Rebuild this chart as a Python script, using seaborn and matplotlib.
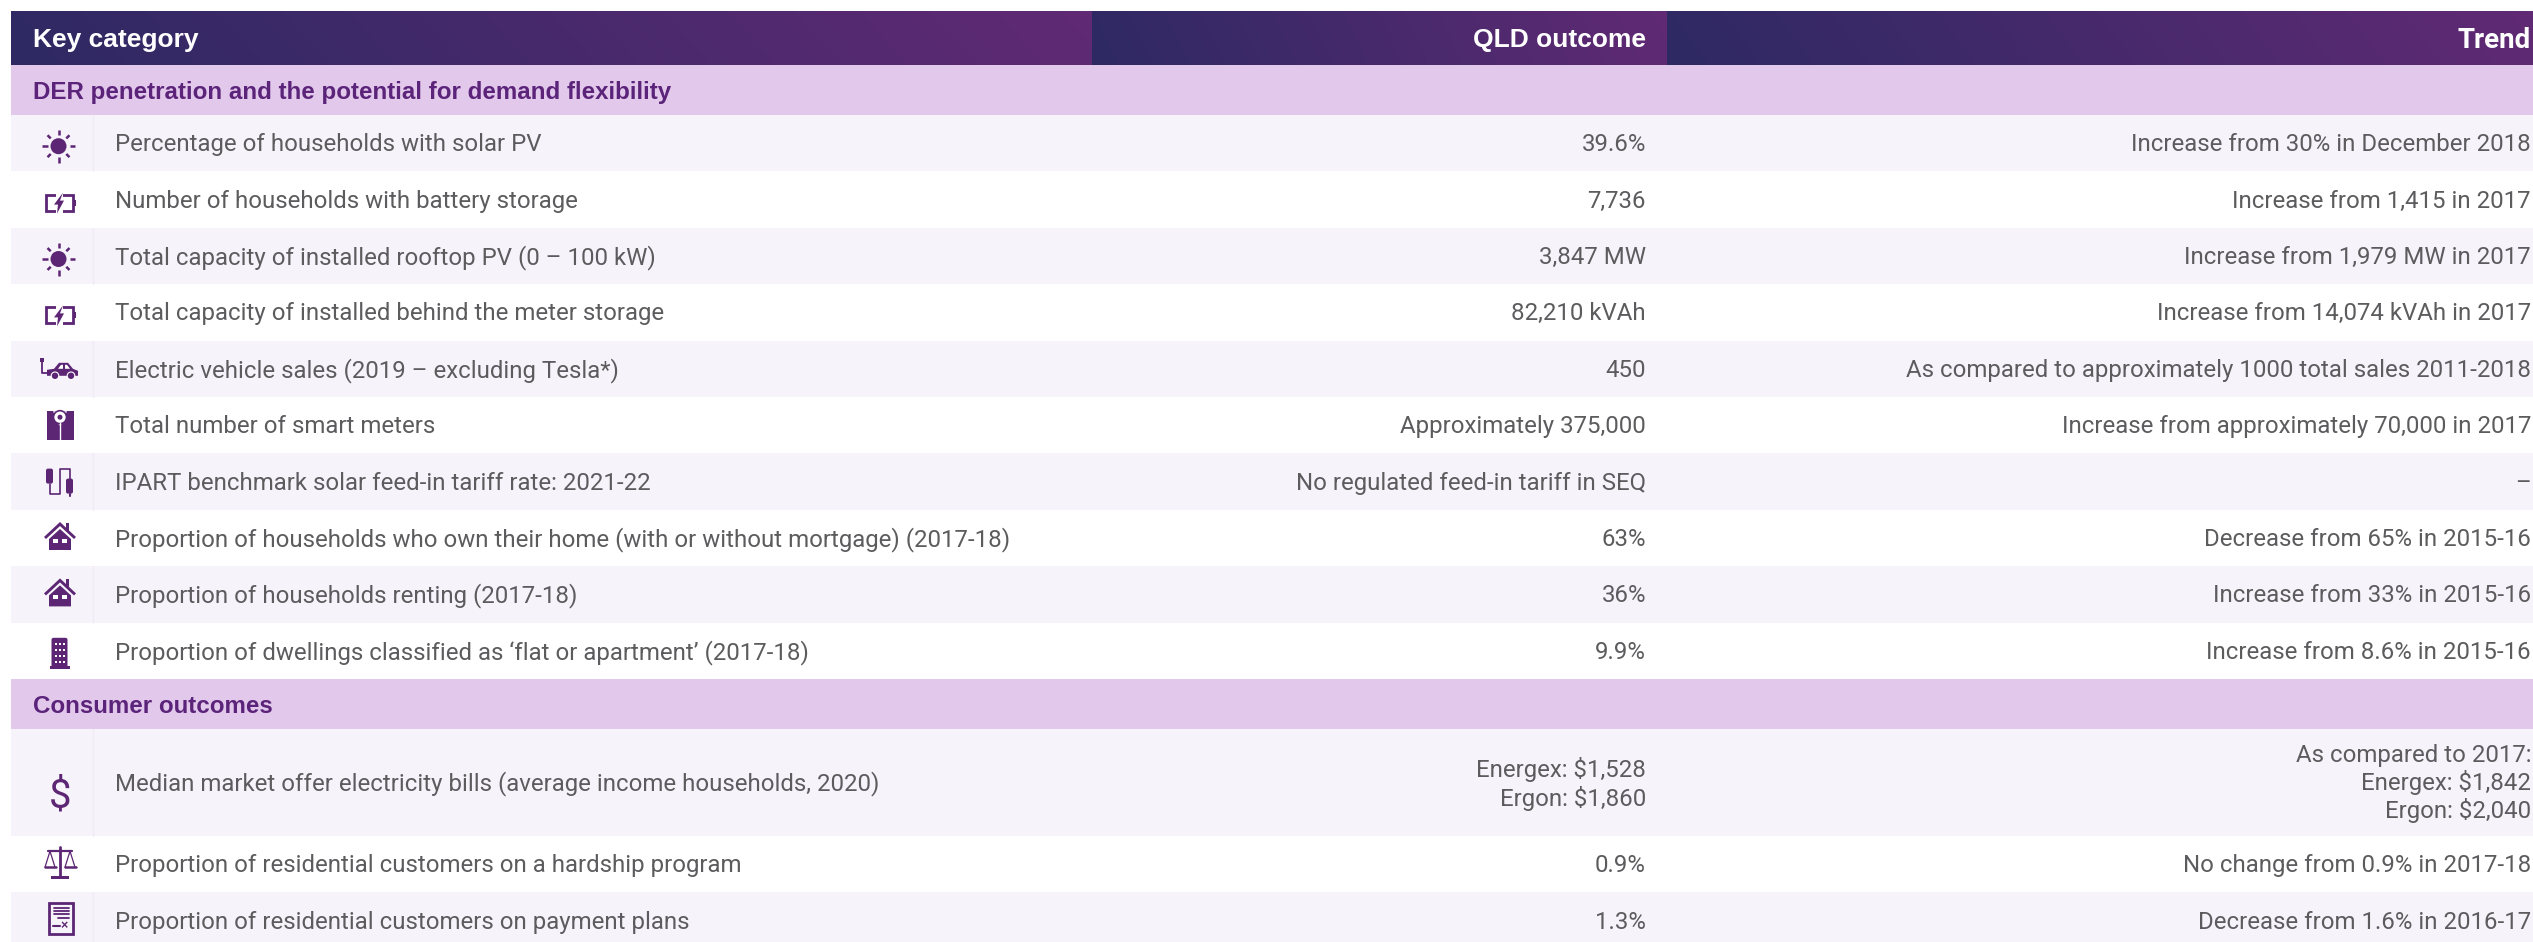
import numpy as np
import matplotlib
matplotlib.use('Agg')
import matplotlib.pyplot as plt
import seaborn as sns
from matplotlib.colors import LinearSegmentedColormap, ListedColormap
from matplotlib.patches import Circle, Polygon, Rectangle, FancyBboxPatch

# table content
header_labels = ['Key category', 'QLD outcome', 'Trend']
section_titles = ['DER penetration and the potential for demand flexibility', 'Consumer outcomes']
der_labels = [
    'Percentage of households with solar PV',
    'Number of households with battery storage',
    'Total capacity of installed rooftop PV (0 – 100 kW)',
    'Total capacity of installed behind the meter storage',
    'Electric vehicle sales (2019 – excluding Tesla*)',
    'Total number of smart meters',
    'IPART benchmark solar feed-in tariff rate: 2021-22',
    'Proportion of households who own their home (with or without mortgage) (2017-18)',
    'Proportion of households renting (2017-18)',
    'Proportion of dwellings classified as ‘flat or apartment’ (2017-18)',
]
der_outcomes = ['39.6%', '7,736', '3,847 MW', '82,210 kVAh', '450', 'Approximately 375,000',
                'No regulated feed-in tariff in SEQ', '63%', '36%', '9.9%']
der_trends = [
    'Increase from 30% in December 2018',
    'Increase from 1,415 in 2017',
    'Increase from 1,979 MW in 2017',
    'Increase from 14,074 kVAh in 2017',
    'As compared to approximately 1000 total sales 2011-2018',
    'Increase from approximately 70,000 in 2017',
    '–',
    'Decrease from 65% in 2015-16',
    'Increase from 33% in 2015-16',
    'Increase from 8.6% in 2015-16',
]
der_icons = ['sun', 'battery', 'sun', 'battery', 'car', 'meter', 'plug', 'house', 'house', 'flat']
consumer_labels = [
    'Median market offer electricity bills (average income households, 2020)',
    'Proportion of residential customers on a hardship program',
    'Proportion of residential customers on payment plans',
]
consumer_outcomes = ['Energex: $1,528\nErgon: $1,860', '0.9%', '1.3%']
consumer_trends = ['As compared to 2017:\nEnergex: $1,842\nErgon: $2,040',
                   'No change from 0.9% in 2017-18', 'Decrease from 1.6% in 2016-17']
consumer_icons = ['dollar', 'scales', 'doc']

# layout in pixels, top to bottom
W, H = 2533, 942
TOP_MARGIN = 11
HEADER_H = 54
SECTION_H = 50
ROW_H = 56.4
TALL_ROW_H = 107
LEFT = 11
COL_SPLIT = 93
TEXT_X = 115
HEAD_X = 33
HEAD_EDGES = [LEFT, 1092, 1667, W]
OUTCOME_X = 1646
TREND_X = 2531
BODY_DY = 1.5
HEAD_DY = 2.5

PURPLE = '#5c2674'
TEXT_COL = '#5c5c5e'
PALE = '#f7f3fa'
SECTION = '#e2c9ec'
BODY_FONT = ['Roboto', 'Liberation Sans', 'DejaVu Sans']
HEAD_FONT = ['Liberation Sans', 'DejaVu Sans']
BODY_SIZE = 17.3

sns.set_theme(style='white')
fig = plt.figure(figsize=(W / 100, H / 100), dpi=100)

y = TOP_MARGIN + HEADER_H + SECTION_H
rows = []
for i, (lab, out, tr, ic) in enumerate(zip(der_labels, der_outcomes, der_trends, der_icons)):
    rows.append((y, ROW_H, lab, out, tr, ic, i % 2 == 0))
    y += ROW_H
section2_y = y
y += SECTION_H
for i, (lab, out, tr, ic) in enumerate(zip(consumer_labels, consumer_outcomes, consumer_trends, consumer_icons)):
    h = TALL_ROW_H if i == 0 else ROW_H
    rows.append((y, h, lab, out, tr, ic, i % 2 == 0))
    y += h

# row bands: 0 white, 1 pale, 2 section
shade = np.zeros((H, 1))
shade[TOP_MARGIN + HEADER_H:TOP_MARGIN + HEADER_H + SECTION_H] = 2
shade[int(round(section2_y)):int(round(section2_y)) + SECTION_H] = 2
for r in rows:
    if r[6]:
        shade[int(round(r[0])):int(round(r[0] + r[1]))] = 1

bg = fig.add_axes([LEFT / W, 0, 1 - LEFT / W, 1])
sns.heatmap(shade, ax=bg, cbar=False, cmap=ListedColormap(['white', PALE, SECTION]),
            vmin=0, vmax=2, xticklabels=False, yticklabels=False)
bg.set_axis_off()

ax = fig.add_axes([0, 0, 1, 1])
ax.patch.set_alpha(0)
ax.set_axis_off()

# header gradients
cmap = LinearSegmentedColormap.from_list('head', ['#2e2963', '#602a74'])
for x0, x1 in zip(HEAD_EDGES[:-1], HEAD_EDGES[1:]):
    xx, yy = np.meshgrid(np.linspace(0, 1, 200), np.linspace(0, 1, 12))
    ax.imshow(xx * 0.96 + (1 - yy) * 0.04, cmap=cmap, vmin=0, vmax=1, aspect='auto',
              extent=(x0, x1, TOP_MARGIN + HEADER_H, TOP_MARGIN), interpolation='bilinear')
ax.set_xlim(0, W)
ax.set_ylim(H, 0)


def add_sun(cx, cy):
    ax.add_patch(Circle((cx, cy), 8, color=PURPLE, lw=0))
    for a in np.arange(8) * np.pi / 4:
        r0, r1 = (11, 16.5) if a % (np.pi / 2) < 0.01 else (11, 15.5)
        ax.plot([cx + r0 * np.cos(a), cx + r1 * np.cos(a)], [cy + r0 * np.sin(a), cy + r1 * np.sin(a)],
                color=PURPLE, lw=1.8, solid_capstyle='butt')


def add_battery(cx, cy):
    ax.add_patch(Rectangle((cx - 14, cy - 8), 27, 16, fill=False, ec=PURPLE, lw=2))
    ax.add_patch(Rectangle((cx + 13, cy - 3), 3, 6, color=PURPLE, lw=0))
    ax.add_patch(Rectangle((cx - 4, cy - 10), 7, 20, fc='white', lw=0))
    ax.add_patch(Polygon([(cx + 3, cy - 10), (cx - 6, cy + 2), (cx - 2, cy + 2), (cx - 3, cy + 11),
                          (cx + 4, cy - 2), (cx, cy - 2)], color=PURPLE, lw=0))


def add_car(cx, cy):
    ax.add_patch(Polygon([(cx - 15, cy + 4), (cx - 15, cy - 1), (cx - 8, cy - 2), (cx - 3, cy - 8),
                          (cx + 6, cy - 8), (cx + 11, cy - 2), (cx + 16, cy), (cx + 16, cy + 5),
                          (cx - 15, cy + 5)], color=PURPLE, lw=0))
    ax.add_patch(Polygon([(cx - 4, cy - 2), (cx - 1, cy - 6), (cx + 1, cy - 6), (cx + 1, cy - 2)], color='white', lw=0))
    ax.add_patch(Polygon([(cx + 3, cy - 2), (cx + 3, cy - 6), (cx + 5, cy - 6), (cx + 8, cy - 2)], color='white', lw=0))
    for dx in (-7, 9):
        ax.add_patch(Circle((cx + dx, cy + 5), 3.8, fc=PURPLE, ec='white', lw=0.8))
    ax.plot([cx - 20, cx - 20, cx - 15], [cy - 10, cy + 2, cy + 2], color=PURPLE, lw=1.3)
    ax.add_patch(Rectangle((cx - 22, cy - 13), 4, 4, color=PURPLE, lw=0))


def add_meter(cx, cy):
    ax.add_patch(Rectangle((cx - 13, cy - 14), 27, 29, color=PURPLE, lw=0))
    ax.plot([cx, cx], [cy - 2, cy + 15], color='white', lw=1)
    ax.add_patch(Polygon([(cx - 7, cy - 14), (cx + 7, cy - 14), (cx + 1, cy), (cx - 1, cy)], color='white', lw=0))
    ax.add_patch(Circle((cx, cy - 8), 6.5, fc='white', ec=PURPLE, lw=1.2))
    ax.add_patch(Circle((cx, cy - 8), 2.5, fc=PURPLE, lw=0))


def add_plug(cx, cy):
    ax.add_patch(FancyBboxPatch((cx - 14, cy - 13), 7, 15, boxstyle='round,pad=0,rounding_size=2', color=PURPLE, lw=0))
    ax.add_patch(FancyBboxPatch((cx + 6, cy - 3), 7, 15, boxstyle='round,pad=0,rounding_size=2', color=PURPLE, lw=0))
    ax.plot([cx - 10, cx - 10, cx, cx, cx + 10, cx + 10],
            [cy + 2, cy + 12, cy + 12, cy - 13, cy - 13, cy - 3], color=PURPLE, lw=1.2)
    ax.plot([cx + 9.5, cx + 9.5], [cy + 12, cy + 14], color=PURPLE, lw=1.5)


def add_house(cx, cy):
    ax.add_patch(Polygon([(cx, cy - 15), (cx + 16, cy), (cx + 14, cy + 2), (cx, cy - 11), (cx - 14, cy + 2),
                          (cx - 16, cy)], color=PURPLE, lw=0))
    ax.add_patch(Polygon([(cx, cy - 8), (cx + 11, cy + 2), (cx + 11, cy + 13), (cx - 11, cy + 13), (cx - 11, cy + 2)],
                         color=PURPLE, lw=0))
    ax.add_patch(Rectangle((cx + 6, cy - 14), 3, 8, color=PURPLE, lw=0))
    ax.add_patch(Rectangle((cx - 7, cy + 2), 5, 4, color='white', lw=0))
    ax.add_patch(Rectangle((cx + 2, cy + 2), 5, 4, color='white', lw=0))


def add_flat(cx, cy):
    ax.add_patch(FancyBboxPatch((cx - 8, cy - 13), 16, 30, boxstyle='round,pad=0,rounding_size=2', color=PURPLE, lw=0))
    ax.add_patch(Rectangle((cx - 10, cy + 15), 20, 3, color=PURPLE, lw=0))
    for dx in (-4, 0, 4):
        for dy in (-7, -1, 5, 11):
            ax.add_patch(Rectangle((cx + dx - 1, cy + dy - 1), 2, 2, color='white', lw=0))


def add_scales(cx, cy):
    ax.plot([cx, cx], [cy - 17, cy + 12], color=PURPLE, lw=2)
    ax.plot([cx - 12, cx + 12], [cy - 13, cy - 13], color=PURPLE, lw=1.6)
    ax.add_patch(Rectangle((cx - 9, cy + 12), 18, 3, color=PURPLE, lw=0))
    for dx in (-10, 10):
        ax.plot([cx + dx - 5, cx + dx, cx + dx + 5], [cy + 3, cy - 13, cy + 3], color=PURPLE, lw=0.9)
        ax.plot([cx + dx - 5.5, cx + dx + 5.5], [cy + 3, cy + 3], color=PURPLE, lw=1.8)


def add_doc(cx, cy):
    ax.add_patch(Rectangle((cx - 12, cy - 15), 24, 31, fill=False, ec=PURPLE, lw=2))
    for dy, x0 in zip((-10, -7, -4, 0), (-2, -2, -2, 2)):
        ax.plot([cx + x0 - 5, cx + 8], [cy + dy, cy + dy], color=PURPLE, lw=1.3)
    ax.plot([cx - 8, cx - 1], [cy + 8, cy + 8], color=PURPLE, lw=1.5)
    ax.text(cx + 4, cy + 8, '×', color=PURPLE, fontsize=9, ha='center', va='center', fontweight='bold',
            family=HEAD_FONT)


def add_dollar(cx, cy):
    ax.text(cx, cy, '$', color=PURPLE, fontsize=29, ha='center', va='center', family=BODY_FONT)


ICONS = {'sun': (58.5, 3, add_sun), 'battery': (60, 3, add_battery), 'car': (62, 2, add_car),
         'meter': (60, 0, add_meter), 'plug': (60, 0, add_plug), 'house': (60, -1, add_house),
         'flat': (59.5, 0, add_flat), 'dollar': (60, 14, add_dollar), 'scales': (60, 0, add_scales),
         'doc': (60.5, -3, add_doc)}

# header and section text
head_xs = [HEAD_X, OUTCOME_X, TREND_X]
head_has = ['left', 'right', 'right']
head_fams = [HEAD_FONT, HEAD_FONT, BODY_FONT]
head_sizes = [19, 19, 20]
for lab, hx, ha, fam, fs in zip(header_labels, head_xs, head_has, head_fams, head_sizes):
    ax.text(hx, TOP_MARGIN + HEADER_H / 2 + HEAD_DY, lab, color='white', fontsize=fs, fontweight='bold', ha=ha, va='center',
            family=fam)
for title, sy in zip(section_titles, [TOP_MARGIN + HEADER_H, section2_y]):
    ax.text(HEAD_X, sy + SECTION_H / 2 + HEAD_DY, title, color='#5b2379', fontsize=17.4, fontweight='bold', ha='left',
            va='center', family=HEAD_FONT)

# body rows
for ry, rh, lab, out, tr, ic, pale in rows:
    cy = ry + rh / 2
    if pale:
        ax.plot([COL_SPLIT, COL_SPLIT], [ry, ry + rh], color='#f0ebf6', lw=1)
    ax.text(TEXT_X, cy + BODY_DY, lab, color=TEXT_COL, fontsize=BODY_SIZE, ha='left', va='center', family=BODY_FONT)
    ax.text(OUTCOME_X, cy + BODY_DY, out, color=TEXT_COL, fontsize=BODY_SIZE, ha='right', va='center', family=BODY_FONT,
            linespacing=1.2, multialignment='right')
    ax.text(TREND_X, cy + BODY_DY, tr, color=TEXT_COL, fontsize=BODY_SIZE, ha='right', va='center', family=BODY_FONT,
            linespacing=1.15, multialignment='right')
    ix, dy, draw = ICONS[ic]
    draw(ix, cy + dy)

ax.set_xlim(0, W)
ax.set_ylim(H, 0)
fig.savefig('out.png', dpi=100, facecolor='white')
